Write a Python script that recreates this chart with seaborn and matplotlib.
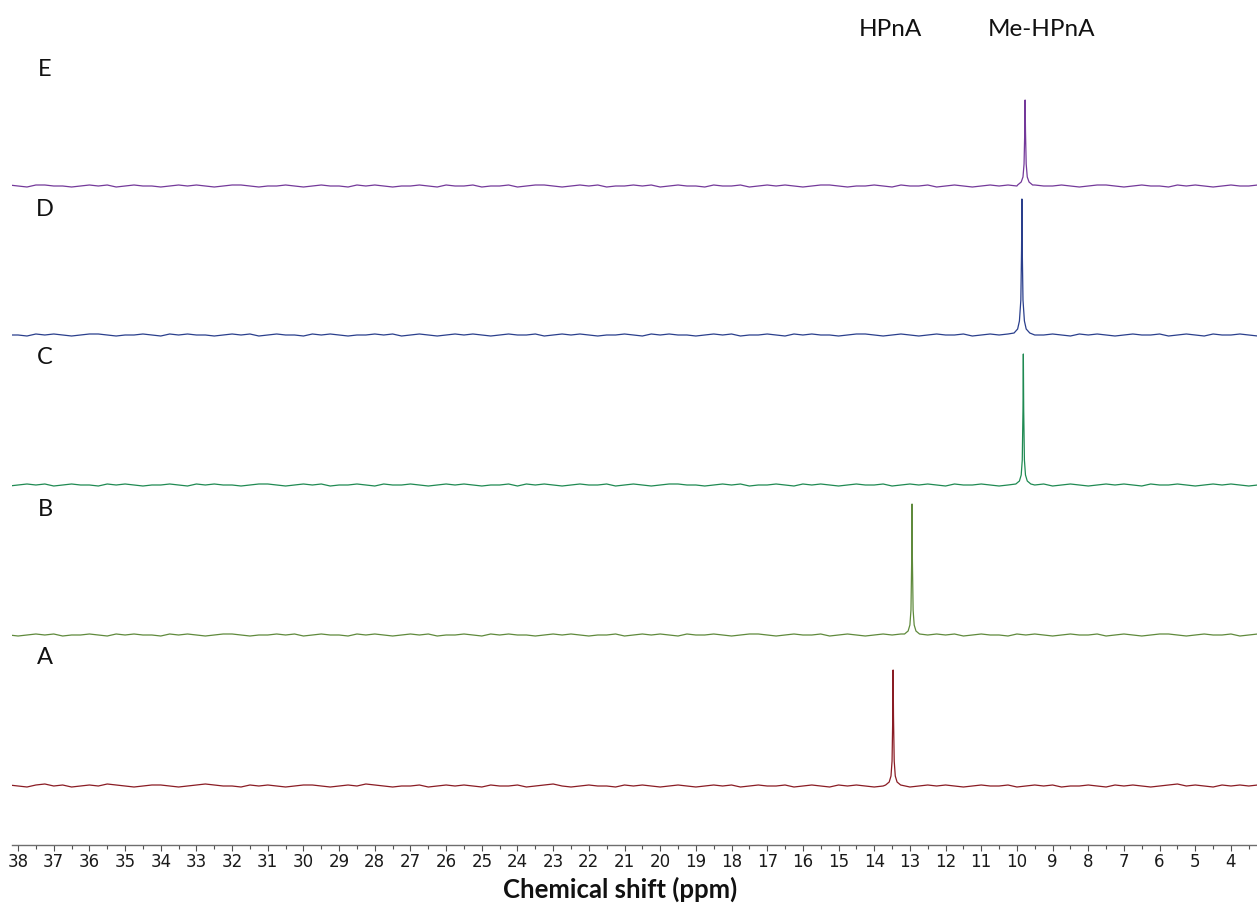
import numpy as np
import pandas as pd
import matplotlib
matplotlib.use("Agg")
import matplotlib.pyplot as plt
import seaborn as sns
from matplotlib.ticker import MultipleLocator
from matplotlib import font_manager

# ---------------- data ----------------
samples = ["A", "B", "C", "D", "E"]
colors = {"A": "#8a1c24", "B": "#5f8a3c", "C": "#1f8a52", "D": "#2a3f8c", "E": "#74399a"}
# baseline offset of each trace (stack position, arbitrary units)
offsets = {"A": 59, "B": 210, "C": 360, "D": 510, "E": 659}

# baseline sampling grid (ppm) and hand-read baseline wiggles per trace
base_ppm = list(np.arange(38.5, 2.99, -0.25))
base_A = [0, 1, 0, -1, 1, 2, 0, 1, -1, 0, 1, 0, 2, 1, 0, -1, 0, 1, 1, 0,
          -1, 0, 1, 2, 1, 0, 0, -1, 1, 0, 1, 0, -1, 0, 1, 1, 0, -1, 0, 1,
          0, 2, 1, 0, -1, 0, 0, 1, -1, 0, 1, 0, 1, 0, -1, 1, 0, 0, 1, -1,
          0, 1, 2, 0, -1, 0, 1, 0, 0, -1, 1, 0, 1, 0, -1, 0, 1, 0, -1, 0,
          1, 0, 1, -1, 0, 1, 0, 0, 1, -1, 0, 1, 0, -1, 1, 0, 1, 0, -1, 0,
          0, 1, -1, 0, 1, 0, 1, 0, -1, 0, 1, 0, 0, 1, -1, 0, 1, 0, 1, -1,
          0, 0, 1, 0, -1, 1, 0, 1, 0, -1, 0, 1, 2, 0, 1, 0, -1, 1, 0, 1,
          0, 1, 0]
base_B = [1, 0, -1, 0, 1, 0, 1, -1, 0, 0, 1, 0, -1, 1, 0, 1, 0, 0, -1, 1,
          0, 1, 0, -1, 0, 1, 1, 0, -1, 0, 0, 1, 0, 1, -1, 0, 1, 0, 0, -1,
          1, 0, 1, 0, -1, 0, 1, 0, 1, -1, 0, 0, 1, 0, -1, 1, 0, 1, 0, 0,
          -1, 0, 1, 0, 1, 0, -1, 0, 0, 1, -1, 0, 1, 0, 1, 0, -1, 1, 0, 0,
          1, 0, -1, 0, 1, 1, 0, -1, 0, 1, 0, 0, 1, -1, 0, 1, 0, -1, 0, 1,
          0, 1, -1, 0, 0, 1, 0, 1, -1, 0, 1, 0, 0, -1, 1, 0, 1, 0, -1, 0,
          1, 0, 0, 1, -1, 0, 1, 0, -1, 0, 1, 1, 0, -1, 0, 1, 0, 0, 1, -1,
          0, 1, 0]
base_C = [0, -1, 0, 1, 0, 1, -1, 0, 1, 0, 0, -1, 1, 0, 1, 0, -1, 0, 0, 1,
          0, -1, 1, 0, 1, 0, 0, -1, 0, 1, 1, 0, -1, 0, 1, 0, 1, -1, 0, 0,
          1, 0, -1, 1, 0, 0, 1, 0, -1, 0, 1, 0, 1, 0, -1, 0, 0, 1, -1, 1,
          0, 1, 0, -1, 0, 1, 0, 0, 1, -1, 0, 1, 0, -1, 0, 1, 1, 0, 0, -1,
          0, 1, 0, 1, -1, 0, 0, 1, 0, -1, 1, 0, 1, 0, -1, 0, 1, 0, 0, 1,
          -1, 0, 1, 0, 1, 0, -1, 1, 0, 0, 1, 0, -1, 0, 1, 0, 0, 1, -1, 0,
          1, 0, -1, 0, 1, 0, 1, 0, -1, 1, 0, 0, 1, 0, -1, 0, 1, 0, 1, 0,
          -1, 0, 1]
base_D = [1, 0, 0, -1, 1, 0, 1, 0, -1, 0, 1, 1, 0, -1, 0, 0, 1, 0, -1, 1,
          0, 1, 0, 0, -1, 0, 1, 0, 1, -1, 0, 1, 0, 0, -1, 1, 0, 1, 0, -1,
          0, 0, 1, 0, 1, -1, 0, 1, 0, -1, 0, 1, 0, 1, 0, -1, 0, 1, 0, 0,
          1, -1, 0, 1, 0, 1, 0, -1, 0, 0, 1, 0, -1, 1, 0, 1, 0, 0, -1, 0,
          1, 0, 1, -1, 0, 0, 1, 0, -1, 1, 0, 1, 0, 0, -1, 0, 1, 1, 0, -1,
          0, 1, 0, -1, 0, 1, 0, 0, 1, -1, 0, 1, 0, 1, 0, -1, 0, 0, 1, 0,
          -1, 1, 0, 1, 0, -1, 0, 1, 0, 0, 1, -1, 0, 1, 0, -1, 1, 0, 0, 1,
          0, -1, 0]
base_E = [0, 1, 0, -1, 1, 1, 0, 0, -1, 0, 1, 0, 1, -1, 0, 1, 0, 0, -1, 0,
          1, 0, 1, 0, -1, 0, 1, 1, 0, -1, 0, 0, 1, 0, -1, 0, 1, 0, 0, -1,
          1, 0, 1, 0, -1, 0, 0, 1, 0, -1, 1, 0, 0, 1, -1, 0, 0, 1, -1, 0,
          1, 1, 0, -1, 0, 1, 0, 1, -1, 0, 0, 1, 0, 1, -1, 0, 1, 0, 0, -1,
          1, 0, 0, 1, -1, 0, 1, 0, 1, 0, -1, 0, 1, 1, 0, -1, 0, 0, 1, 0,
          -1, 1, 0, 0, 1, -1, 0, 1, 0, -1, 0, 1, 0, 1, 0, -1, 1, 0, 0, 1,
          0, -1, 0, 1, 1, 0, -1, 0, 1, 0, 0, -1, 1, 0, 1, 0, -1, 0, 1, 0,
          0, 1, -1]

# peak profiles (ppm, intensity)
peak_A_ppm = [13.68, 13.58, 13.53, 13.50, 13.48, 13.47, 13.46, 13.44, 13.41, 13.36, 13.26]
peak_A_val = [1, 4, 10, 25, 70, 116, 70, 25, 10, 4, 1]
peak_B_ppm = [13.15, 13.05, 13.00, 12.97, 12.95, 12.94, 12.93, 12.91, 12.88, 12.83, 12.73]
peak_B_val = [1, 4, 10, 25, 75, 131, 75, 25, 10, 4, 1]
peak_C_ppm = [10.03, 9.93, 9.88, 9.85, 9.83, 9.82, 9.81, 9.79, 9.76, 9.71, 9.61]
peak_C_val = [1, 4, 10, 25, 75, 131, 75, 25, 10, 4, 1]
peak_D_ppm = [10.08, 9.98, 9.93, 9.89, 9.87, 9.86, 9.85, 9.83, 9.79, 9.74, 9.64]
peak_D_val = [2, 6, 14, 35, 85, 136, 85, 35, 14, 6, 2]
peak_E_ppm = [9.98, 9.88, 9.83, 9.80, 9.78, 9.77, 9.76, 9.74, 9.71, 9.66, 9.56]
peak_E_val = [1, 4, 9, 22, 55, 86, 55, 22, 9, 4, 1]

tick_values = list(range(38, 3, -1))
tick_labels = [str(v) for v in tick_values]

# ---------------- build table ----------------
base_vals = {"A": base_A, "B": base_B, "C": base_C, "D": base_D, "E": base_E}
peaks = {"A": (peak_A_ppm, peak_A_val), "B": (peak_B_ppm, peak_B_val),
         "C": (peak_C_ppm, peak_C_val), "D": (peak_D_ppm, peak_D_val),
         "E": (peak_E_ppm, peak_E_val)}
frames = []
for s in samples:
    pp, pv = peaks[s]
    lo, hi = min(pp), max(pp)
    pairs = [(x, v) for x, v in zip(base_ppm, base_vals[s]) if not (lo <= x <= hi)]
    bx = [p[0] for p in pairs]
    by = [p[1] for p in pairs]
    df = pd.DataFrame({"ppm": bx + pp, "intensity": by + pv})
    df["y"] = df["intensity"] + offsets[s]
    df["sample"] = s
    frames.append(df.sort_values("ppm"))
data = pd.concat(frames, ignore_index=True)

# ---------------- plot ----------------
sns.set_theme(style="white")
plt.rcParams["font.family"] = ["Lato", "DejaVu Sans"]

names = {f.name for f in font_manager.fontManager.ttflist}
tick_family = ["Liberation Sans Narrow", "DejaVu Sans"] if "Liberation Sans Narrow" in names \
    else ["DejaVu Sans"]

W, H = 1257, 905
fig = plt.figure(figsize=(W / 100, H / 100), dpi=100)
ax = fig.add_axes([12 / W, (H - 845) / H, (W - 12) / W, 845 / H])

for s in samples:
    sns.lineplot(data=data[data["sample"] == s], x="ppm", y="y", color=colors[s],
                 linewidth=0.9, estimator=None, sort=True, ax=ax)

ax.set_xlim(38.17, 3.27)
ax.set_ylim(0, 845)
ax.set_yticks([])
ax.set_ylabel("")
ax.set_xlabel("")
for sp in ["top", "left", "right"]:
    ax.spines[sp].set_visible(False)
ax.spines["bottom"].set_color("#6e6e6e")
ax.spines["bottom"].set_linewidth(1.0)

ax.set_xticks(tick_values)
ax.set_xticklabels(tick_labels)
ax.xaxis.set_minor_locator(MultipleLocator(0.5))
ax.tick_params(axis="x", which="major", direction="out", length=4, width=0.8,
               color="#505050", pad=2, labelsize=12, bottom=True)
ax.tick_params(axis="x", which="minor", direction="out", length=3, width=0.8,
               color="#505050", bottom=True)
for lab in ax.get_xticklabels():
    lab.set_fontfamily(tick_family)
    lab.set_color("#1a1a1a")

# trace labels
label_pos = {"E": 70, "D": 210, "C": 357, "B": 510, "A": 658}
for s in samples:
    fig.text(45 / W, 1 - label_pos[s] / H, s, ha="center", va="center",
             fontsize=17, color="#111111")

fig.text(890 / W, 1 - 29 / H, "HPnA", ha="center", va="center", fontsize=17.5, color="#111111")
fig.text(1041 / W, 1 - 29 / H, "Me-HPnA", ha="center", va="center", fontsize=17.5, color="#111111")

fig.text(620 / W, 1 - 889 / H, "Chemical shift (ppm)", ha="center", va="center",
         fontsize=18.5, fontweight="bold", color="#111111")

fig.savefig("out.png", dpi=100)
